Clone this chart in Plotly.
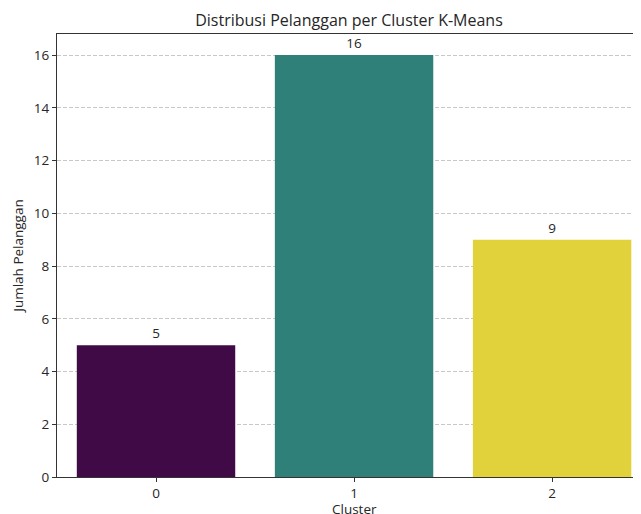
import plotly.graph_objects as go

clusters = ["0", "1", "2"]
counts = [5, 16, 9]
bar_colors = ["#3F0A46", "#2E8079", "#E1D23B"]
y_ticks = [0, 2, 4, 6, 8, 10, 12, 14, 16]

FONT = "Open Sans, Noto Sans, DejaVu Sans"

# page body has an 8px default margin; figure offset accordingly
fig = go.Figure()
fig.add_trace(go.Bar(
    x=[0, 1, 2],
    y=counts,
    width=0.8,
    marker=dict(color=bar_colors, line=dict(width=0)),
    text=[str(c) for c in counts],
    textposition="outside",
    textfont=dict(family=FONT, size=13.5, color="#262626"),
    cliponaxis=False,
))

fig.update_layout(
    width=633, height=506,
    margin=dict(l=49, r=0, t=26, b=37, autoexpand=False),
    paper_bgcolor="white", plot_bgcolor="white",
    showlegend=False,
    title=dict(text="Distribusi Pelanggan per Cluster K-Means",
               x=0.5, xanchor="center", xref="paper", y=1 - 12/506, yanchor="middle",
               font=dict(family=FONT, size=16, color="#262626")),
    font=dict(family=FONT, size=13.5, color="#262626"),
    annotations=[dict(text="Cluster", xref="paper", yref="paper", x=(156 - 57 + 198) / 584,
                      y=0, xanchor="center", yanchor="middle", yshift=-32,
                      showarrow=False, font=dict(family=FONT, size=13.5, color="#262626"))],
)
fig.update_xaxes(
    range=[-0.5, 2.449],
    tickmode="array", tickvals=[0, 1, 2], ticktext=clusters,
    ticks="outside", ticklen=4, tickcolor="#333",
    showline=True, linecolor="#333", linewidth=1, mirror=True,
    showgrid=False, zeroline=False, automargin=False,
)
fig.update_yaxes(
    range=[0, 16.8],
    tickmode="array", tickvals=y_ticks,
    ticks="outside", ticklen=4, tickcolor="#333",
    showline=True, linecolor="#333", linewidth=1,
    showgrid=True, gridcolor="rgba(170,170,170,0.65)", griddash="4px,2px", gridwidth=1,
    zeroline=False, layer="above traces", automargin=False,
    title=dict(text="Jumlah Pelanggan", font=dict(family=FONT, size=13.5), standoff=7),
)

fig.write_html("out.html")
